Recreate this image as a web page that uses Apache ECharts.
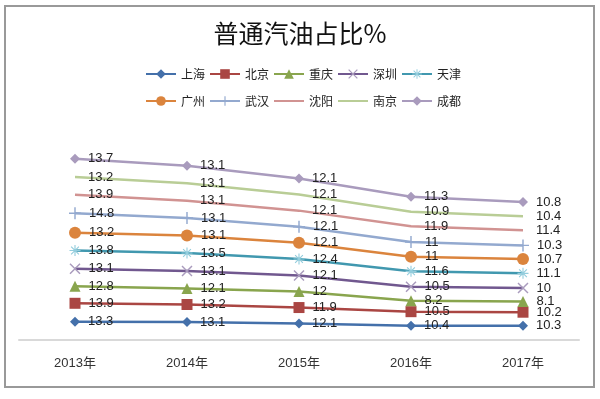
<!DOCTYPE html>
<html>
<head>
<meta charset="utf-8">
<script src="https://cdn.jsdelivr.net/npm/echarts@6/dist/echarts.min.js"></script>
<style>
  html, body { margin: 0; padding: 0; background: #fff; }
  #chart { width: 600px; height: 399px; }
</style>
</head>
<body>
<div id="chart"></div>
<script>
// 数据
const years = ["2013年", "2014年", "2015年", "2016年", "2017年"];
const cities = ["上海", "北京", "重庆", "深圳", "天津", "广州", "武汉", "沈阳", "南京", "成都"];

const shanghai = [13.3, 13.1, 12.1, 10.4, 10.3];
const beijing = [13.9, 13.2, 11.9, 10.5, 10.2];
const chongqing = [12.8, 12.1, 12, 8.2, 8.1];
const shenzhen = [13.1, 13.1, 12.1, 10.5, 10];
const tianjin = [13.8, 13.5, 12.4, 11.6, 11.1];
const guangzhou = [13.2, 13.1, 12.1, 11, 10.7];
const wuhan = [14.8, 13.1, 12.1, 11, 10.3];
const shenyang = [13.9, 13.1, 12.1, 11.9, 11.4];
const nanjing = [13.2, 13.1, 12.1, 10.9, 10.4];
const chengdu = [13.7, 13.1, 12.1, 11.3, 10.8];

const values = [shanghai, beijing, chongqing, shenzhen, tianjin, guangzhou, wuhan, shenyang, nanjing, chengdu];

// 自定义符号
const plusPath = "path://M4.4,0 L5.6,0 L5.6,4.4 L10,4.4 L10,5.6 L5.6,5.6 L5.6,10 L4.4,10 L4.4,5.6 L0,5.6 L0,4.4 L4.4,4.4 Z";
const xPath = "path://M1.82,1.11 L8.89,8.18 L8.18,8.89 L1.11,1.82 Z M1.11,8.18 L8.18,1.11 L8.89,1.82 L1.82,8.89 Z";
const starPath = "path://M0,4.5 L10,4.5 L10,5.5 L0,5.5 Z M4.5,0 L5.5,0 L5.5,10 L4.5,10 Z " +
  "M1.82,1.11 L8.89,8.18 L8.18,8.89 L1.11,1.82 Z M1.11,8.18 L8.18,1.11 L8.89,1.82 L1.82,8.89 Z";

const lineColors = ["#4470AA", "#AA4643", "#89A54E", "#71588F", "#4198AF", "#DB843D", "#93A9CF", "#D19392", "#B9CD96", "#A99BBD"];
const markColors = ["#4470AA", "#AA4643", "#89A54E", "#A99BBD", "#93CDDD", "#DB843D", "#93A9CF", "rgba(0,0,0,0)", "rgba(0,0,0,0)", "#A99BBD"];
const symbols = ["diamond", "rect", "triangle", xPath, starPath, "circle", plusPath, "circle", "circle", "diamond"];
const symbolSizes = [10, 11, 11, 11, 11, 12, 12, 10, 10, 10];

const chart = echarts.init(document.getElementById("chart"));

const series = cities.map((name, i) => ({
  name: name,
  type: "line",
  stack: "total",
  data: values[i],
  symbol: symbols[i],
  symbolSize: symbolSizes[i],
  lineStyle: { color: lineColors[i], width: 2.5 },
  itemStyle: { color: markColors[i] },
  label: {
    show: true,
    position: "right",
    distance: 8,
    color: "#222",
    fontSize: 13,
    fontFamily: "Liberation Sans, Arial, sans-serif",
  },
  emphasis: { disabled: true },
  animation: false,
}));

const option = {
  animation: false,
  title: {
    text: "普通汽油占比%",
    left: "center",
    top: 21,
    padding: 0,
    textStyle: {
      fontSize: 25,
      fontWeight: "normal",
      color: "#111",
      fontFamily: "Noto Sans CJK SC",
    },
  },
  legend: [
    {
      data: cities.slice(0, 5),
      left: 145,
      top: 68,
      padding: 0,
      itemWidth: 30,
      itemHeight: 12,
      itemGap: 4,
      textStyle: { fontSize: 12, color: "#222", fontFamily: "Noto Sans CJK SC" },
    },
    {
      data: cities.slice(5),
      left: 145,
      top: 95,
      padding: 0,
      itemWidth: 30,
      itemHeight: 12,
      itemGap: 4,
      textStyle: { fontSize: 12, color: "#222", fontFamily: "Noto Sans CJK SC" },
    },
  ],
  grid: {
    left: 19,
    right: 21,
    top: 126.5,
    bottom: 59.5,
    containLabel: false,
  },
  xAxis: {
    type: "category",
    data: years,
    boundaryGap: true,
    axisLine: { lineStyle: { color: "#D9D9D9", width: 2 } },
    axisTick: { show: false },
    axisLabel: {
      margin: 17,
      fontSize: 13,
      color: "#333",
      fontFamily: "Liberation Sans, Noto Sans CJK SC, sans-serif",
    },
  },
  yAxis: {
    type: "value",
    min: 0,
    max: 160,
    show: false,
    splitLine: { show: false },
  },
  graphic: [
    {
      type: "rect",
      shape: { x: 5, y: 6, width: 589, height: 381 },
      style: { fill: "none", stroke: "#999", lineWidth: 2 },
      silent: true,
    },
  ],
  series: series,
};

chart.setOption(option);
</script>
</body>
</html>
